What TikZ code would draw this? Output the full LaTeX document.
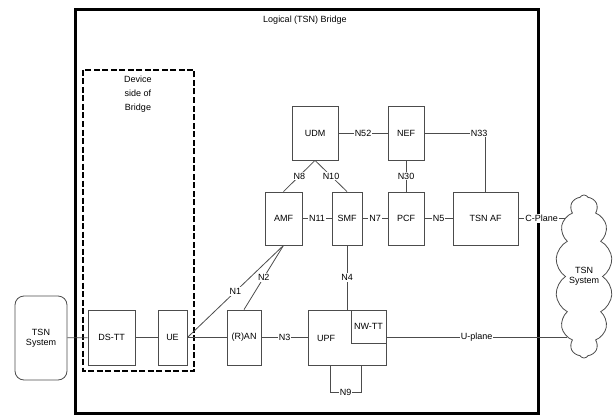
\documentclass[tikz,border=0pt]{standalone}
\usepackage{fontspec}
\setmainfont{Liberation Sans}
\usetikzlibrary{shapes.symbols}
\begin{document}
\begin{tikzpicture}[x=1pt, y=-1pt, font=\fontsize{9}{10}\selectfont,
    nf/.style={draw=black!70, line width=0.8pt, inner sep=0pt},
    lbl/.style={fill=white, text=black, inner sep=1pt},
    every edge/.style={draw=black!70, line width=0.8pt}]
    \useasboundingbox (0,0) rectangle (615,417);
    % bridge and device side
    \draw[line width=3pt] (75,10) rectangle (538,413);
    \node (title) at (305,20) {Logical (TSN) Bridge};
    \draw[line width=1.3pt, dash pattern=on 6pt off 2.5pt] (83,70) rectangle (194,371);
    \node[align=center, font=\fontsize{9}{14}\selectfont] (dev) at (138,94) {Device\\side of\\Bridge};
    % control plane
    \node[nf, minimum width=46pt, minimum height=54pt] (udm) at (315,133) {UDM};
    \node[nf, minimum width=36pt, minimum height=54pt] (nef) at (406,133) {NEF};
    \node[nf, minimum width=37pt, minimum height=53pt] (amf) at (283.5,218.5) {AMF};
    \node[nf, minimum width=30pt, minimum height=53pt] (smf) at (347,218.5) {SMF};
    \node[nf, minimum width=36pt, minimum height=53pt] (pcf) at (406,218.5) {PCF};
    \node[nf, minimum width=65pt, minimum height=53pt] (tsnaf) at (485.5,218.5) {TSN AF};
    % user plane
    \node[nf, rounded corners=9pt, minimum width=52pt, minimum height=84pt, align=center] (tsnl) at (41,338) {TSN\\System};
    \node[nf, minimum width=47pt, minimum height=55pt] (dstt) at (111.5,337.5) {DS-TT};
    \node[nf, minimum width=29pt, minimum height=55pt] (ue) at (172.5,337.5) {UE};
    \node[nf, minimum width=34pt, minimum height=55pt] (ran) at (244,337.5) {(R)AN};
    \node[nf, minimum width=78pt, minimum height=55pt] (upf) at (347,337.5) {};
    \node (upftxt) at (326,338) {UPF};
    \node[nf, minimum width=35pt, minimum height=33pt] (nwtt) at (368.5,326.5) {NW-TT};
    \node[cloud, draw=black!70, line width=0.8pt, cloud puffs=14, cloud puff arc=120, cloud ignores aspect,
        minimum width=57pt, minimum height=163pt, inner sep=0pt, align=center] (cloud) at (584,276.5) {TSN\\System};
    \coordinate (cp) at (565,218.5);
    \coordinate (up) at (567,337.5);
    \node[lbl] (n33) at (479,133) {N33};
    \path
    (tsnl) edge (dstt)
    (dstt) edge (ue)
    (ue) edge (ran)
    (ran) edge node[lbl] {N3} (upf)
    (ue.east) edge node[lbl] {N1} (amf.south)
    (ran.north) edge node[lbl] {N2} (amf.south)
    (udm.south) edge node[lbl] {N8} (amf.north)
    (udm.south) edge node[lbl] {N10} (smf.north)
    (udm) edge node[lbl] {N52} (nef)
    (nef) edge node[lbl] {N30} (pcf)
    (amf) edge node[lbl] {N11} (smf)
    (smf) edge node[lbl] {N7} (pcf)
    (pcf) edge node[lbl] {N5} (tsnaf)
    (smf) edge node[lbl] {N4} (upf)
    (tsnaf) edge node[lbl] {C-Plane} (cp)
    (upf.east) edge node[lbl] {U-plane} (up)
    (nef) edge (n33)
    (tsnaf.north) edge (tsnaf.north |- n33.south);
    \draw[black!70, line width=0.8pt] ([xshift=-17pt]upf.south) -- ++(0,27)
        -- node[lbl] {N9} ++(31,0) -- ([xshift=14pt]upf.south);
\end{tikzpicture}
\end{document}
